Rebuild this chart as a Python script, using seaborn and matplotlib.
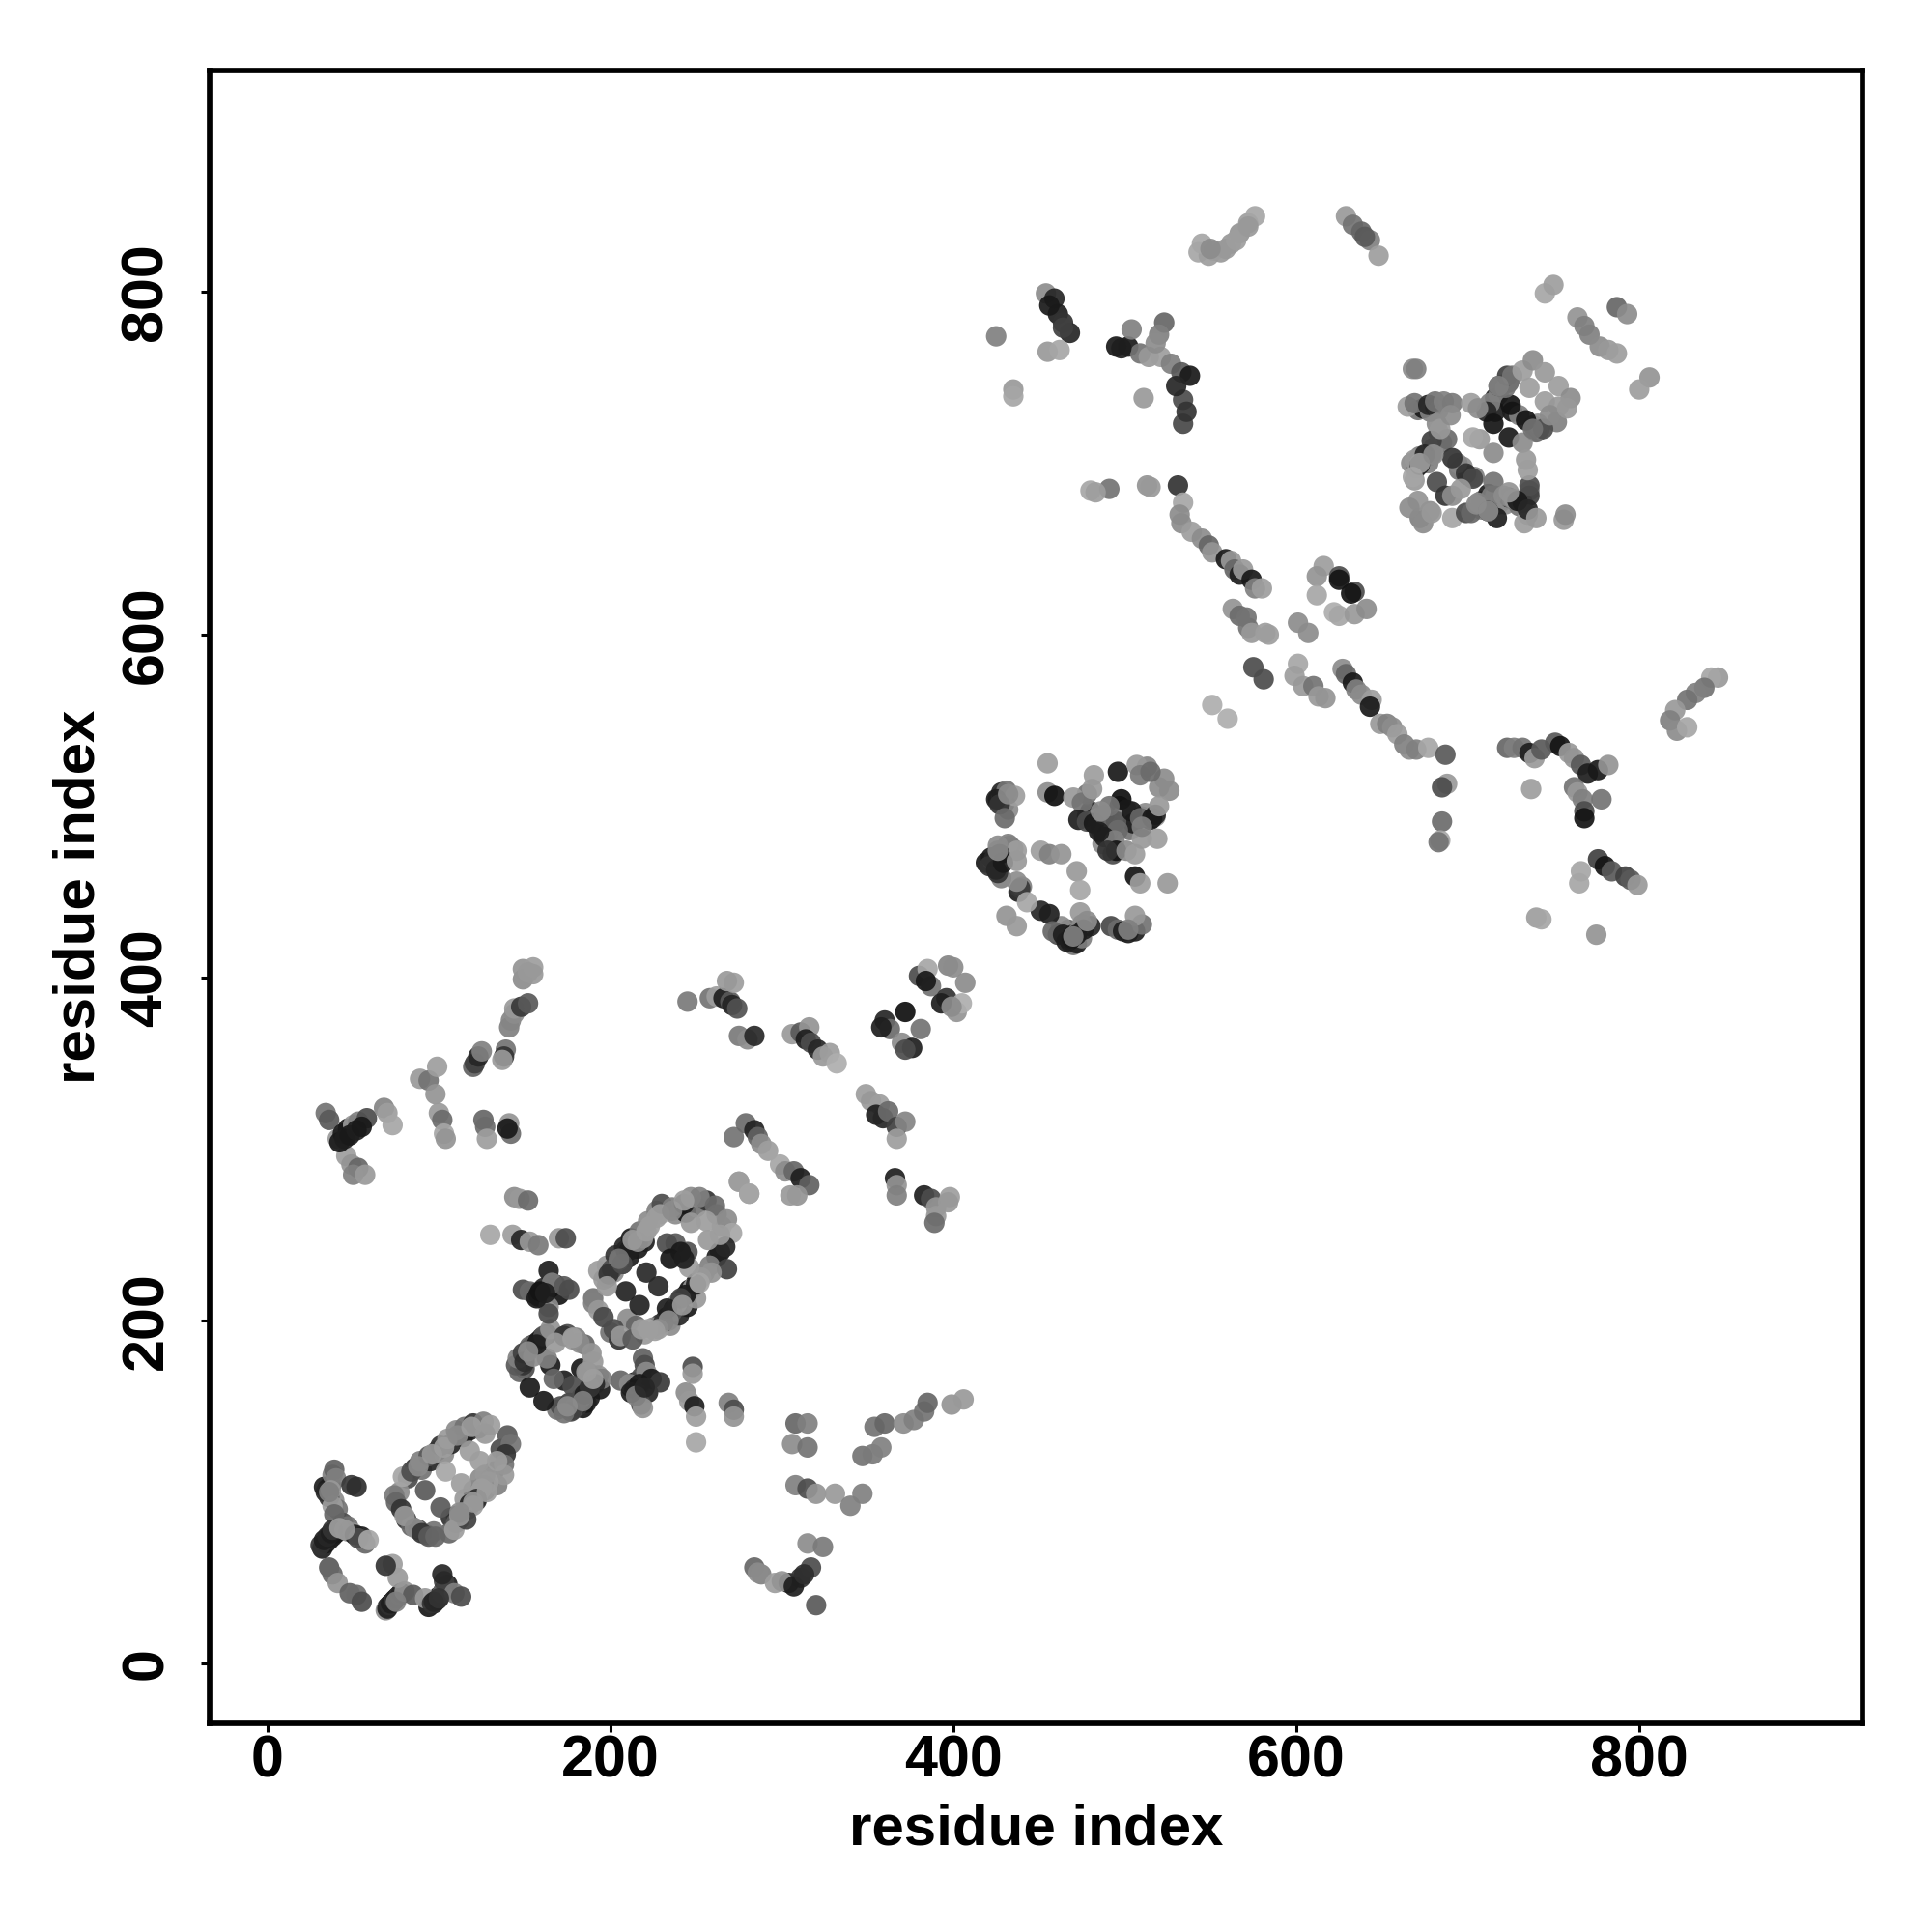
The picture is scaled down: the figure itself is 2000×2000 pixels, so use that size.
import pandas as pd
import matplotlib
matplotlib.use("Agg")
import matplotlib.pyplot as plt
import seaborn as sns

# contact map points (x, y, grey level)
low_left_x = [39, 40, 34, 36, 37, 38, 39, 49, 52, 31, 33, 35, 37, 38, 42, 47, 51, 53, 59, 36, 38, 41, 48, 52, 55]
low_left_y = [113, 108, 100, 97, 101, 92, 87, 104, 103, 69, 72, 74, 76, 78, 79, 77, 75, 73, 72, 56, 52, 47, 41, 40, 36]
low_left_s = [.38, .5, .15, .2, .6, .62, .4, .22, .18, .2, .12, .15, .12, .2, .62, .55, .12, .3, .65, .35, .4, .58, .38, .42, .3]

foot_x = [69, 70, 71, 72, 74, 75, 77, 78, 80, 76, 73, 69, 85, 92, 96, 99, 102, 103, 102, 109, 113, 97, 100]
foot_y = [31, 32, 34, 35, 37, 38, 40, 41, 42, 50, 58, 57, 40, 38, 35, 37, 41, 48, 52, 41, 39, 36, 38]
foot_s = [.55, .12, .18, .12, .2, .12, .2, .15, .58, .6, .62, .2, .35, .6, .2, .12, .4, .25, .15, .5, .3, .15, .2]

oval_one_x = [74, 75, 78, 80, 86, 90, 94, 98, 79, 84, 89, 94, 101, 105, 110, 115, 120, 126, 130, 142, 139, 138, 138,
              129, 126, 123, 118, 114, 110, 109, 92, 101, 104, 113, 118, 124, 127, 125, 122, 120, 116, 112]
oval_one_y = [98, 94, 90, 86, 79, 76, 74, 74, 109, 112, 118, 121, 127, 131, 136, 138, 140, 141, 139, 128, 122, 116, 110,
              106, 104, 99, 93, 88, 82, 78, 101, 91, 112, 105, 124, 118, 110, 102, 96, 92, 84, 86]
oval_one_s = [.48, .4, .2, .6, .55, .2, .35, .4, .65, .3, .5, .35, .2, .6, .55, .45, .2, .5, .62, .45, .2, .45, .6,
              .62, .55, .62, .15, .6, .35, .62, .35, .35, .65, .62, .62, .62, .6, .62, .18, .62, .25, .6]

cross_low_x = [145, 146, 149, 153, 158, 161, 165, 173, 178, 182, 189, 190, 193, 195, 191, 187, 183, 180, 177, 173,
               165, 163, 173, 178, 167, 153, 161, 150, 155, 157, 185, 188, 184]
cross_low_y = [174, 178, 181, 185, 188, 191, 195, 191, 189, 187, 181, 176, 168, 166, 163, 159, 155, 151, 147, 146,
               174, 178, 165, 162, 166, 161, 153, 176, 179, 186, 157, 161, 153]
cross_low_s = [.35, .5, .25, .4, .1, .35, .58, .2, .6, .55, .58, .6, .58, .5, .15, .1, .4, .3, .25, .45,
               .1, .5, .12, .3, .4, .1, .1, .18, .55, .12, .12, .2, .5]

cross_up_x = [164, 149, 153, 158, 161, 166, 173, 176, 164, 164, 157, 159, 162]
cross_up_y = [229, 218, 217, 215, 219, 222, 220, 218, 208, 204, 213, 217, 216]
cross_up_s = [.12, .3, .42, .12, .15, .5, .35, .3, .55, .3, .1, .08, .12]

oval_two_x = [190, 190, 193, 196, 202, 206, 213, 193, 196, 201, 205, 209, 214, 219, 223, 227, 230, 236, 243, 247, 252,
              261, 268, 271, 267, 268, 259, 253, 248, 244, 239, 236, 231, 228, 222, 211, 216, 199, 207, 250, 241, 233]
oval_two_y = [213, 210, 206, 202, 195, 191, 189, 229, 224, 230, 235, 241, 244, 248, 255, 260, 268, 266, 268, 272, 272,
              267, 259, 251, 243, 230, 228, 225, 219, 215, 210, 205, 199, 195, 195, 241, 246, 227, 233, 221, 213, 207]
oval_two_s = [.45, .5, .6, .28, .3, .6, .35, .62, .6, .3, .5, .15, .15, .6, .62, .62, .3, .5, .1, .55, .5,
              .42, .55, .65, .15, .25, .58, .6, .6, .1, .55, .35, .2, .62, .65, .12, .55, .2, .3, .12, .25, .12]

oval_two_in_x = [221, 228, 209, 217, 238, 245, 233, 235, 247, 257, 246, 241, 243]
oval_two_in_y = [228, 220, 217, 209, 245, 240, 245, 236, 257, 247, 231, 240, 236]
oval_two_in_s = [.16, .16, .14, .13, .35, .32, .3, .08, .6, .6, .62, .1, .12]

mid_bits_x = [275, 281, 248, 248, 244, 246, 249, 250, 250, 269, 272, 272, 144, 147, 152, 130, 143, 148, 153, 158, 170, 174]
mid_bits_y = [281, 274, 173, 169, 158, 153, 150, 144, 129, 152, 148, 144, 272, 271, 270, 250, 250, 247, 246, 244, 248, 248]
mid_bits_s = [.62, .62, .3, .6, .55, .6, .12, .62, .65, .5, .3, .58, .55, .6, .42, .65, .62, .15, .6, .48, .6, .3]

x_right_x = [206, 211, 214, 219, 220, 221, 217, 224, 229, 218, 219, 212, 215, 220]
x_right_y = [165, 163, 160, 178, 174, 170, 163, 166, 164, 151, 149, 158, 156, 161]
x_right_s = [.4, .55, .15, .38, .3, .55, .1, .1, .22, .3, .58, .12, .5, .15]

left_arm_x = [34, 36, 41, 44, 47, 50, 53, 58, 68, 70, 73, 46, 49, 53, 50, 57, 42, 45, 48, 52, 55]
left_arm_y = [321, 317, 306, 309, 312, 314, 316, 318, 324, 321, 314, 296, 291, 289, 285, 285, 304, 306, 308, 311, 313]
left_arm_s = [.45, .35, .6, .1, .1, .6, .5, .3, .52, .62, .65, .62, .58, .4, .5, .6, .1, .12, .1, .12, .1]

left_up_x = [89, 94, 99, 98, 100, 102, 103, 104, 126, 127, 128, 141, 142, 140, 120, 121, 123, 125, 139, 138, 137,
             141, 142, 144, 144, 148, 152, 149, 149, 155, 155, 152]
left_up_y = [341, 340, 348, 332, 321, 317, 309, 306, 317, 313, 306, 315, 309, 312, 348, 350, 354, 357, 358, 354, 352,
             371, 375, 379, 382, 383, 385, 399, 405, 406, 402, 403]
left_up_s = [.6, .45, .62, .58, .6, .42, .65, .58, .4, .42, .62, .58, .42, .1, .38, .25, .15, .5, .45, .2, .6,
             .5, .52, .55, .6, .22, .35, .55, .58, .62, .6, .6]

arc_mid_x = [245, 258, 262, 266, 270, 272, 268, 271, 274, 275, 280, 284, 306, 311, 316, 314, 317, 321, 324, 328, 332,
             349, 352, 357, 355, 359, 362, 367, 372, 367, 272, 279, 284, 286, 288, 292, 299, 302, 307, 311, 316, 309, 305,
             275, 281, 366, 367, 367, 383, 387, 390, 390, 389, 398, 397]
arc_mid_y = [386, 388, 389, 388, 386, 397, 398, 384, 382, 366, 364, 366, 367, 368, 371, 364, 362, 358, 354, 356, 350,
             332, 328, 326, 320, 318, 322, 313, 316, 306, 307, 315, 311, 307, 303, 299, 291, 287, 287, 283, 279, 273, 273,
             281, 274, 283, 279, 273, 273, 271, 266, 261, 257, 272, 269]
arc_mid_s = [.48, .45, .62, .12, .35, .62, .6, .14, .32, .48, .55, .16, .6, .35, .58, .12, .3, .15, .6, .62, .68,
             .62, .6, .62, .12, .15, .42, .25, .52, .62, .45, .42, .14, .38, .55, .62, .65, .55, .4, .12, .38, .58, .6,
             .62, .65, .12, .58, .5, .12, .3, .58, .6, .42, .62, .6]

pairs_mid_x = [360, 363, 372, 381, 370, 376, 372, 358, 380, 385, 387, 396, 402, 405, 397, 400, 407, 384, 393, 399]
pairs_mid_y = [375, 370, 380, 370, 362, 359, 358, 371, 401, 405, 395, 388, 380, 385, 407, 406, 397, 398, 385, 383]
pairs_mid_s = [.15, .42, .06, .45, .55, .12, .3, .12, .3, .65, .45, .2, .58, .68, .52, .55, .55, .1, .12, .55]

bottom_mid_x = [308, 315, 306, 315, 308, 315, 320, 331, 340, 347, 347, 353, 358, 354, 360, 371, 377, 383, 385, 399, 406,
                284, 288, 296, 304, 311, 317, 315, 324, 320, 300, 307, 313, 286]
bottom_mid_y = [140, 140, 128, 126, 104, 102, 99, 99, 92, 99, 121, 122, 126, 138, 140, 140, 142, 147, 152, 151, 154,
                56, 52, 47, 47, 50, 56, 70, 68, 34, 48, 45, 52, 53]
bottom_mid_s = [.4, .5, .55, .45, .5, .3, .58, .6, .5, .5, .45, .48, .5, .45, .4, .55, .5, .45, .4, .58, .6,
                .4, .5, .62, .15, .2, .3, .55, .48, .35, .58, .12, .18, .55]

ring_a_x = [455, 455, 459, 428, 431, 436, 425, 427, 430, 470, 475, 482, 481, 473, 478, 482, 488, 495, 496, 488, 494, 495,
            490, 501, 506, 510, 519, 496, 498, 504, 509, 518, 520, 526, 523, 513, 507, 509, 515, 506, 509, 525, 516, 491, 485]
ring_a_y = [525, 508, 506, 508, 509, 506, 504, 501, 493, 505, 502, 518, 510, 492, 491, 490, 495, 491, 486, 482, 480, 474,
            474, 474, 472, 481, 481, 520, 504, 497, 493, 495, 511, 509, 516, 523, 524, 518, 520, 459, 455, 455, 493, 500, 485]
ring_a_s = [.62, .55, .06, .15, .45, .62, .12, .2, .42, .6, .45, .62, .6, .12, .3, .1, .4, .35, .42, .12, .5, .08,
            .2, .55, .62, .6, .62, .1, .06, .1, .4, .15, .55, .55, .55, .52, .6, .48, .42, .08, .62, .6, .1, .45, .12]

ring_b_x = [432, 437, 426, 422, 424, 427, 428, 426, 439, 437, 451, 456, 463, 472, 474, 431, 437, 451, 456, 458, 464,
            468, 470, 473, 480, 474, 475, 492, 496, 502, 506, 510, 506, 443, 421, 425, 429, 466, 469, 472, 476, 499]
ring_b_y = [478, 474, 477, 470, 470, 472, 458, 461, 452, 456, 474, 472, 472, 462, 451, 436, 430, 439, 437, 427, 425,
            422, 425, 427, 430, 438, 431, 430, 428, 426, 427, 431, 436, 444, 465, 463, 467, 421, 423, 425, 428, 427]
ring_b_s = [.5, .62, .55, .1, .15, .12, .5, .2, .22, .55, .62, .5, .58, .6, .65, .58, .6, .15, .12, .4, .12,
            .08, .1, .5, .15, .6, .55, .28, .42, .1, .12, .45, .6, .65, .2, .15, .1, .12, .1, .12, .12, .12]

top_arcs_x = [543, 549, 556, 545, 562, 567, 572, 576, 629, 633, 638, 643, 648, 745, 750, 787, 793, 764, 768, 771, 777, 782, 787,
              806, 800, 425, 435, 435, 454, 459, 461, 464, 468, 455, 462, 552, 559, 565, 550, 572, 640, 456, 464]
top_arcs_y = [823, 821, 823, 828, 828, 834, 840, 844, 844, 839, 835, 830, 821, 799, 804, 791, 787, 785, 780, 775, 768, 766, 764,
              750, 743, 774, 743, 739, 799, 796, 787, 782, 776, 765, 766, 824, 825, 830, 825, 838, 832, 792, 779]
top_arcs_s = [.65, .62, .6, .65, .6, .58, .62, .65, .6, .45, .4, .5, .62, .65, .62, .4, .55, .58, .5, .5, .55, .6, .62,
              .58, .62, .5, .6, .65, .55, .15, .12, .2, .15, .6, .65, .62, .6, .62, .55, .6, .35, .1, .25]

upper_left_x = [495, 502, 504, 509, 514, 523, 520, 521, 527, 533, 538, 534, 534, 511, 480, 491, 513, 531, 498, 518, 530, 536, 483, 515]
upper_left_y = [768, 768, 778, 764, 762, 782, 775, 762, 758, 753, 751, 737, 723, 738, 684, 685, 687, 687, 767, 770, 745, 730, 683, 686]
upper_left_s = [.1, .1, .5, .45, .6, .4, .5, .62, .5, .35, .1, .3, .28, .6, .65, .45, .58, .2, .12, .55, .15, .2, .62, .6]

# strips between the two square clusters, from close crops
strip_a_x = [534, 532, 533, 539, 545, 549, 551, 559, 562, 564, 567, 569, 574, 576, 580,
             563, 567, 571, 572, 574, 582, 584, 601, 607, 575, 581, 551, 560,
             601, 599, 604, 610, 613, 617, 627, 629, 633, 635, 638, 644, 643]
strip_a_y = [677, 670, 665, 660, 656, 652, 648, 644, 643, 638, 635, 638, 632, 627, 627,
             615, 611, 610, 604, 601, 601, 600, 607, 601, 581, 574, 559, 551,
             583, 576, 570, 570, 564, 563, 580, 577, 572, 568, 565, 562, 558]
strip_a_s = [.65, .55, .55, .62, .55, .4, .58, .1, .6, .4, .12, .6, .1, .5, .62,
             .58, .42, .45, .45, .6, .62, .62, .55, .55, .3, .3, .68, .68,
             .65, .62, .6, .45, .6, .58, .55, .4, .1, .5, .55, .62, .1]

strip_b_x = [649, 653, 656, 659, 663, 666, 670, 677, 687, 616, 612, 612, 622, 625, 634, 641, 625, 634, 625, 632,
             723, 727, 732, 736, 739, 743, 751, 754, 759, 762, 766, 770, 776, 782,
             762, 764, 767, 768, 768, 778, 776, 780, 784, 792, 795, 799, 766, 765,
             737, 775, 740, 743, 688, 685, 685, 684, 683,
             846, 842, 838, 833, 828, 821, 818, 822, 828]
strip_b_y = [548, 548, 546, 542, 536, 533, 533, 534, 530, 640, 634, 623, 613, 611, 612, 615, 634, 625, 632, 624,
             534, 534, 534, 531, 528, 533, 537, 535, 531, 528, 524, 519, 521, 524,
             511, 508, 504, 497, 493, 504, 469, 465, 462, 459, 457, 454, 462, 455,
             510, 425, 435, 434, 513, 511, 491, 480, 479,
             575, 575, 569, 566, 562, 556, 550, 544, 546]
strip_b_s = [.6, .5, .55, .62, .5, .55, .5, .65, .35, .62, .58, .65, .68, .65, .6, .55, .3, .3, .08, .08,
             .4, .5, .45, .12, .6, .35, .35, .08, .6, .58, .35, .12, .1, .58,
             .45, .6, .5, .3, .08, .45, .25, .08, .35, .25, .35, .6, .65, .65,
             .62, .58, .62, .65, .6, .3, .42, .65, .45,
             .6, .65, .45, .5, .45, .6, .5, .55, .65]

square_x = [668, 670, 665, 669, 677, 681, 686, 691, 682, 683, 688, 679, 679, 669, 669, 672, 682, 687, 691, 694, 691, 699, 703,
            671, 666, 674, 679, 691, 699, 702, 706, 714, 715, 721, 727, 732, 736, 736, 735, 733, 756, 757,
            715, 707, 703, 702, 706, 715, 724, 725, 734, 732, 734, 718, 722, 723, 726, 732, 738, 745, 736, 745, 753,
            760, 753, 752, 744, 738, 672, 675, 712, 717, 729, 735]
square_y = [755, 755, 733, 735, 734, 736, 736, 735, 723, 718, 714, 713, 705, 702, 690, 699, 689, 681, 681, 700, 703, 694, 691,
            678, 674, 665, 671, 668, 671, 671, 677, 681, 689, 681, 679, 677, 681, 687, 670, 665, 667, 670,
            706, 714, 715, 735, 732, 723, 715, 734, 725, 712, 702, 745, 744, 751, 751, 754, 760, 753, 744, 736, 745,
            738, 733, 724, 720, 720, 699, 705, 672, 668, 678, 673]
square_s = [.55, .5, .62, .45, .15, .45, .5, .48, .55, .6, .42, .25, .4, .6, .6, .55, .3, .2, .55, .52, .2, .2, .28,
            .58, .55, .55, .6, .65, .3, .4, .55, .5, .45, .55, .58, .2, .25, .3, .55, .62, .6, .55,
            .55, .6, .65, .62, .55, .08, .1, .08, .08, .55, .6, .3, .45, .25, .45, .62, .55, .6, .62, .62, .62,
            .55, .6, .5, .3, .45, .12, .15, .1, .12, .1, .15]

# extra points that thicken the dense bands, drawn first so they sit underneath
under_one_x = [32, 34, 36, 38, 40, 35, 37, 39, 41, 44, 47, 50, 55, 57, 70, 72, 74, 76, 78, 94, 97, 100, 103, 105,
               33, 36, 38, 82, 86, 90, 95, 99, 103, 107, 111, 114, 118, 123, 135, 132, 130, 127, 122, 117, 112, 107,
               115, 120, 124, 134, 136, 140, 77, 81, 84, 88, 106, 110, 93, 97]
under_one_y = [67, 70, 72, 74, 76, 102, 104, 95, 90, 82, 80, 76, 74, 70, 33, 35, 37, 39, 41, 33, 35, 39, 43, 46,
               103, 99, 110, 108, 114, 113, 118, 124, 122, 128, 133, 132, 136, 137, 118, 112, 108, 101, 95, 90, 84, 85,
               96, 101, 108, 104, 125, 133, 100, 84, 80, 78, 76, 86, 75, 77]
under_one_s = [.12, .1, .15, .12, .1, .15, .1, .55, .45, .3, .45, .6, .1, .4, .1, .12, .1, .15, .1, .1, .12, .1, .15, .12,
               .12, .1, .5, .3, .2, .45, .15, .3, .55, .15, .4, .15, .12, .3, .5, .2, .45, .3, .2, .55, .4, .2,
               .6, .5, .55, .5, .3, .35, .55, .2, .4, .3, .4, .2, .3, .45]

under_two_x = [150, 152, 155, 160, 163, 147, 149, 175, 180, 185, 183, 187, 190, 192, 194, 188, 186, 184, 181, 178, 175,
               169, 171, 176, 155, 158, 165, 168, 170, 215, 217, 219, 222, 212, 214, 218,
               198, 202, 207, 211, 216, 220, 198, 203, 208, 212, 217, 222, 227, 238, 244, 250, 256, 262, 265,
               264, 262, 258, 255, 250, 246, 241, 237, 233, 229, 235, 240, 245, 250, 200, 205, 210, 215, 220, 225]
under_two_y = [172, 183, 186, 190, 192, 170, 174, 192, 190, 186, 172, 170, 163, 165, 160, 155, 152, 149, 150, 148, 149,
               148, 150, 152, 216, 214, 219, 221, 215, 160, 162, 165, 158, 161, 164, 167,
               225, 228, 233, 237, 242, 246, 232, 238, 243, 248, 252, 258, 264, 262, 263, 266, 270, 262, 255,
               240, 237, 232, 228, 222, 218, 212, 207, 202, 198, 197, 203, 208, 213, 193, 189, 201, 197, 192, 196]
under_two_s = [.3, .15, .2, .12, .15, .4, .2, .3, .5, .4, .1, .55, .1, .12, .1, .1, .12, .1, .2, .3, .15,
               .45, .3, .25, .1, .08, .12, .15, .08, .12, .08, .1, .15, .1, .12, .3,
               .45, .55, .15, .12, .1, .12, .6, .2, .15, .1, .45, .55, .5, .55, .1, .45, .2, .55, .6,
               .1, .12, .5, .55, .1, .08, .15, .12, .1, .2, .55, .15, .1, .6, .45, .2, .55, .4, .6, .55]

under_three_x = [426, 428, 430, 432, 419, 423, 425, 429, 431, 433, 435, 438, 440, 468, 470, 472, 475, 467, 463, 461,
                 478, 480, 484, 486, 490, 492, 497, 499, 501, 503, 505, 510, 512, 515, 518, 478, 487, 493,
                 671, 674, 678, 681, 683, 685, 680, 677, 670, 667, 672, 695, 697, 700, 704, 708, 710, 712, 716, 718,
                 720, 722, 724, 726, 730, 736, 740, 742, 716, 718, 721, 724, 726, 730, 738, 741, 716, 713, 711, 708, 672, 678]
under_three_y = [504, 506, 502, 498, 467, 468, 471, 473, 476, 477, 475, 450, 453, 421, 419, 420, 423, 428, 430, 425,
                 494, 497, 493, 486, 484, 488, 500, 495, 498, 486, 490, 494, 496, 492, 494, 507, 478, 472,
                 731, 732, 730, 733, 731, 712, 709, 700, 697, 700, 704, 696, 698, 693, 692, 678, 675, 682, 681, 676,
                 678, 676, 680, 679, 675, 684, 718, 720, 738, 740, 746, 747, 730, 728, 722, 723, 730, 735, 730, 673, 668, 672]
under_three_s = [.1, .5, .12, .55, .1, .45, .12, .5, .12, .55, .45, .12, .5, .1, .45, .12, .5, .4, .55, .3,
                 .45, .15, .55, .4, .12, .5, .15, .5, .55, .45, .12, .5, .55, .15, .6, .45, .55, .3,
                 .45, .1, .5, .12, .55, .45, .55, .5, .15, .55, .5, .45, .55, .12, .5, .45, .55, .12, .5, .6,
                 .45, .55, .12, .5, .45, .55, .4, .5, .15, .5, .55, .4, .1, .5, .45, .55, .12, .5, .15, .55, .5, .55]

# mid greys lying over the dark bands
over_x = [36, 45, 75, 88, 96, 103, 111, 119, 127, 134, 128, 120, 112, 152, 168, 178, 186, 190, 175, 205, 213, 221,
          229, 236, 243, 256, 264, 252, 242, 234, 226, 198, 218, 432, 437, 426, 470, 478, 502, 486, 510, 520,
          672, 684, 680, 668, 705, 724, 740, 735, 718, 748, 758, 696, 712, 690]
over_y = [100, 78, 36, 115, 122, 126, 133, 138, 134, 118, 100, 94, 88, 182, 187, 190, 170, 166, 150, 236, 247, 252,
          262, 264, 270, 258, 250, 222, 209, 200, 194, 220, 195, 507, 468, 474, 424, 433, 428, 497, 488, 500,
          700, 720, 705, 692, 676, 683, 668, 696, 745, 728, 732, 685, 672, 728]
over_s = [.5, .6, .5, .55, .6, .62, .55, .62, .6, .62, .62, .6, .55, .55, .6, .62, .6, .62, .55, .45, .6, .62,
          .62, .55, .62, .62, .62, .65, .6, .55, .62, .6, .62, .55, .6, .55, .5, .55, .5, .55, .5, .6,
          .62, .6, .55, .65, .55, .58, .6, .62, .5, .55, .6, .6, .55, .55]

groups = [
    (under_one_x, under_one_y, under_one_s),
    (under_two_x, under_two_y, under_two_s),
    (under_three_x, under_three_y, under_three_s),
    (low_left_x, low_left_y, low_left_s),
    (foot_x, foot_y, foot_s),
    (oval_one_x, oval_one_y, oval_one_s),
    (cross_low_x, cross_low_y, cross_low_s),
    (cross_up_x, cross_up_y, cross_up_s),
    (oval_two_x, oval_two_y, oval_two_s),
    (oval_two_in_x, oval_two_in_y, oval_two_in_s),
    (mid_bits_x, mid_bits_y, mid_bits_s),
    (x_right_x, x_right_y, x_right_s),
    (left_arm_x, left_arm_y, left_arm_s),
    (left_up_x, left_up_y, left_up_s),
    (arc_mid_x, arc_mid_y, arc_mid_s),
    (pairs_mid_x, pairs_mid_y, pairs_mid_s),
    (bottom_mid_x, bottom_mid_y, bottom_mid_s),
    (ring_a_x, ring_a_y, ring_a_s),
    (ring_b_x, ring_b_y, ring_b_s),
    (top_arcs_x, top_arcs_y, top_arcs_s),
    (upper_left_x, upper_left_y, upper_left_s),
    (strip_a_x, strip_a_y, strip_a_s),
    (strip_b_x, strip_b_y, strip_b_s),
    (square_x, square_y, square_s),
    (over_x, over_y, over_s),
]

frames = []
for gx, gy, gs in groups:
    frames.append(pd.DataFrame({'x': gx, 'y': gy, 'shade': gs}))
df = pd.concat(frames, ignore_index=True)

sns.set_style('white')
plt.rcParams['font.family'] = ['Liberation Sans', 'DejaVu Sans']
plt.rcParams['font.weight'] = 'bold'

fig = plt.figure(figsize=(10, 10), dpi=200)
ax = fig.add_axes([217 / 2000, 1 - 1784 / 2000, 1711 / 2000, 1711 / 2000])

sns.scatterplot(data=df, x='x', y='y', hue='shade', palette='gray', hue_norm=(0, 1),
                s=58, linewidth=0, alpha=0.92, legend=False, ax=ax)

ax.set_xlim(-33.7, 930.2)
ax.set_ylim(-34.9, 929)
ax.set_xticks([0, 200, 400, 600, 800])
ax.set_yticks([0, 200, 400, 600, 800])
ax.tick_params(axis='both', direction='out', length=3.4, width=1.1, color='black',
               labelsize=22, labelcolor='black', bottom=True, left=True)
ax.tick_params(axis='x', pad=0.6)
ax.tick_params(axis='y', pad=9.6)
for lab in ax.get_yticklabels():
    lab.set_rotation(90)
    lab.set_va('center')
for side in ax.spines.values():
    side.set_linewidth(2.05)
    side.set_color('black')

ax.set_xlabel('residue index', fontsize=21.6, fontweight='bold', color='black', labelpad=5.1)
ax.set_ylabel('residue index', fontsize=21.6, fontweight='bold', color='black', labelpad=5.1)

fig.savefig('out.png', dpi=200)
